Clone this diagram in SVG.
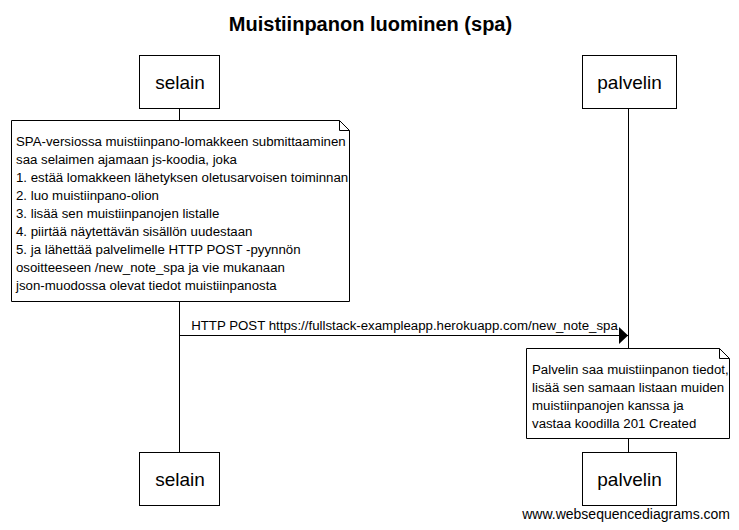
<svg xmlns="http://www.w3.org/2000/svg" width="739" height="530" viewBox="0 0 739 530">
<style>
.box{fill:#fff;stroke:#000;stroke-width:1}
.line{stroke:#000;stroke-width:1;fill:none}
.actor{font-family:"Liberation Sans",Arial,sans-serif;font-size:19px;fill:#000;text-anchor:middle}
.note{font-family:"Liberation Sans",Arial,sans-serif;font-size:13.25px;fill:#000}
.title{font-family:"Liberation Sans",Arial,sans-serif;font-size:20px;font-weight:bold;fill:#000;text-anchor:middle}
</style>
<defs>
<marker id="arr" markerWidth="10" markerHeight="18" refX="9" refY="8.5" orient="auto" markerUnits="userSpaceOnUse">
<path d="M0,0 L9,8.5 L0,17 Z" fill="#000"/>
</marker>
</defs>
<rect width="739" height="530" fill="#fff"/>
<text class="title" x="370.5" y="31">Muistiinpanon luominen (spa)</text>
<g id="connectors">
<line class="line" x1="179.5" y1="108" x2="179.5" y2="452"/>
<line class="line" x1="628.5" y1="108" x2="628.5" y2="452"/>
<line class="line" x1="179.5" y1="335.5" x2="628" y2="335.5" marker-end="url(#arr)"/>
<text class="note" x="404.5" y="330" text-anchor="middle">HTTP POST https://fullstack-exampleapp.herokuapp.com/new_note_spa</text>
</g>
<g id="selain-top">
<rect class="box" x="139.5" y="55.5" width="80" height="53"/>
<text class="actor" x="180" y="89">selain</text>
</g>
<g id="palvelin-top">
<rect class="box" x="582.5" y="55.5" width="94" height="53"/>
<text class="actor" x="629.5" y="89">palvelin</text>
</g>
<g id="note-selain">
<path class="box" d="M11.5,120.5 L339.5,120.5 L349.5,130.5 L349.5,301.5 L11.5,301.5 Z"/>
<path class="line" d="M339.5,120.5 L339.5,130.5 L349.5,130.5"/>
<text class="note" x="16" y="146">SPA-versiossa muistiinpano-lomakkeen submittaaminen</text>
<text class="note" x="16" y="164">saa selaimen ajamaan js-koodia, joka</text>
<text class="note" x="16" y="182">1. estää lomakkeen lähetyksen oletusarvoisen toiminnan</text>
<text class="note" x="16" y="200">2. luo muistiinpano-olion</text>
<text class="note" x="16" y="218">3. lisää sen muistiinpanojen listalle</text>
<text class="note" x="16" y="236">4. piirtää näytettävän sisällön uudestaan</text>
<text class="note" x="16" y="254">5. ja lähettää palvelimelle HTTP POST -pyynnön</text>
<text class="note" x="16" y="272">osoitteeseen /new_note_spa ja vie mukanaan</text>
<text class="note" x="16" y="290">json-muodossa olevat tiedot muistiinpanosta</text>
</g>
<g id="note-palvelin">
<path class="box" d="M526.5,348.5 L719.5,348.5 L729.5,358.5 L729.5,438.5 L526.5,438.5 Z"/>
<path class="line" d="M719.5,348.5 L719.5,358.5 L729.5,358.5"/>
<text class="note" x="532" y="374">Palvelin saa muistiinpanon tiedot,</text>
<text class="note" x="532" y="392">lisää sen samaan listaan muiden</text>
<text class="note" x="532" y="410">muistiinpanojen kanssa ja</text>
<text class="note" x="532" y="428">vastaa koodilla 201 Created</text>
</g>
<g id="selain-bottom">
<rect class="box" x="139.5" y="452.5" width="80" height="53"/>
<text class="actor" x="180" y="486">selain</text>
</g>
<g id="palvelin-bottom">
<rect class="box" x="582.5" y="452.5" width="94" height="53"/>
<text class="actor" x="629.5" y="486">palvelin</text>
</g>
<text class="note" x="730" y="519" text-anchor="end" style="font-size:14px">www.websequencediagrams.com</text>
</svg>
